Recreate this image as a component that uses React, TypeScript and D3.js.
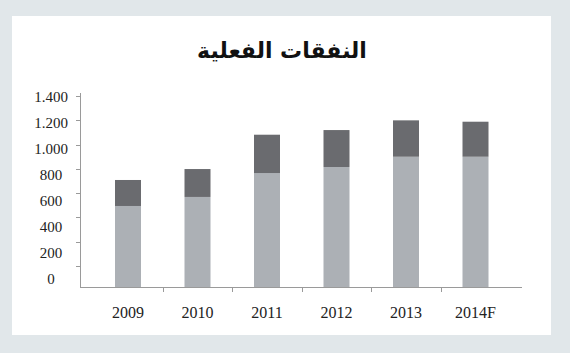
import React from "react";
import * as d3 from "d3";

const title = "النفقات الفعلية";
const categories = ["2009", "2010", "2011", "2012", "2013", "2014F"];
const lightValues = [596, 662, 837, 881, 956, 956];
const darkValues = [190, 204, 280, 270, 266, 256];
const yTickValues = [0, 200, 400, 600, 800, 1000, 1200, 1400];
const yTickLabels = ["0", "200", "400", "600", "800", "1.000", "1.200", "1.400"];

const W = 570;
const H = 353;

export default function App() {
  const x = d3.scalePoint<string>().domain(categories).range([128, 475.5]);
  const barW = 26;
  const y = d3.scaleLinear().domain([0, 1400]).range([287.5, 96]);
  // tick marks and labels are laid out on their own grids in the source graphic
  const yTickMark = d3.scaleLinear().domain([0, 1400]).range([266, 96]);
  const yLabel = d3.scaleLinear().domain([0, 1400]).range([279, 97]);

  const step = x.step();
  const xTicks = categories.slice(0, -1).map((c) => (x(c) as number) + step / 2);

  const axisColor = "#9a9a9a";
  const lightColor = "#acb0b5";
  const darkColor = "#6a6b6f";

  return (
    <svg
      width={W}
      height={H}
      style={{ position: "absolute", left: 0, top: 0, display: "block" }}
    >
      <rect x={0} y={0} width={W} height={H} fill="#e1e7ea" />
      <rect x={12} y={16} width={539} height={319} fill="#ffffff" />
      <text
        x={282}
        y={58}
        textAnchor="middle"
        fontFamily="DejaVu Sans"
        fontWeight="bold"
        fontSize={22}
        fill="#111"
        direction="rtl"
      >
        {title}
      </text>

      {categories.map((c, i) => {
        const cx = x(c) as number;
        const lightTop = y(lightValues[i]);
        const total = lightValues[i] + darkValues[i];
        const darkTop = y(total);
        return (
          <g key={c}>
            <rect
              x={cx - barW / 2}
              y={lightTop}
              width={barW}
              height={y(0) - lightTop}
              fill={lightColor}
            />
            <rect
              x={cx - barW / 2}
              y={darkTop}
              width={barW}
              height={lightTop - darkTop}
              fill={darkColor}
            />
          </g>
        );
      })}

      {/* y axis */}
      <line x1={80.5} x2={80.5} y1={93} y2={287.5} stroke={axisColor} strokeWidth={1} />
      {yTickValues.map((v) => (
        <line
          key={"t" + v}
          x1={76}
          x2={80.5}
          y1={Math.round(yTickMark(v)) + 0.5}
          y2={Math.round(yTickMark(v)) + 0.5}
          stroke={axisColor}
          strokeWidth={1}
        />
      ))}
      {yTickValues.map((v, i) => (
        <text
          key={"l" + v}
          x={51}
          y={yLabel(v)}
          dy="0.35em"
          textAnchor="middle"
          fontFamily="Liberation Serif"
          fontSize={15}
          fill="#222"
        >
          {yTickLabels[i]}
        </text>
      ))}

      {/* x axis */}
      <line x1={80} x2={522} y1={287.5} y2={287.5} stroke={axisColor} strokeWidth={1} />
      {xTicks.map((tx, i) => (
        <line
          key={"xt" + i}
          x1={Math.round(tx) + 0.5}
          x2={Math.round(tx) + 0.5}
          y1={287.5}
          y2={292}
          stroke={axisColor}
          strokeWidth={1}
        />
      ))}
      {categories.map((c) => (
        <text
          key={"xl" + c}
          x={x(c) as number}
          y={312}
          dy="0.35em"
          textAnchor="middle"
          fontFamily="Liberation Serif"
          fontSize={16}
          fill="#222"
        >
          {c}
        </text>
      ))}
    </svg>
  );
}
